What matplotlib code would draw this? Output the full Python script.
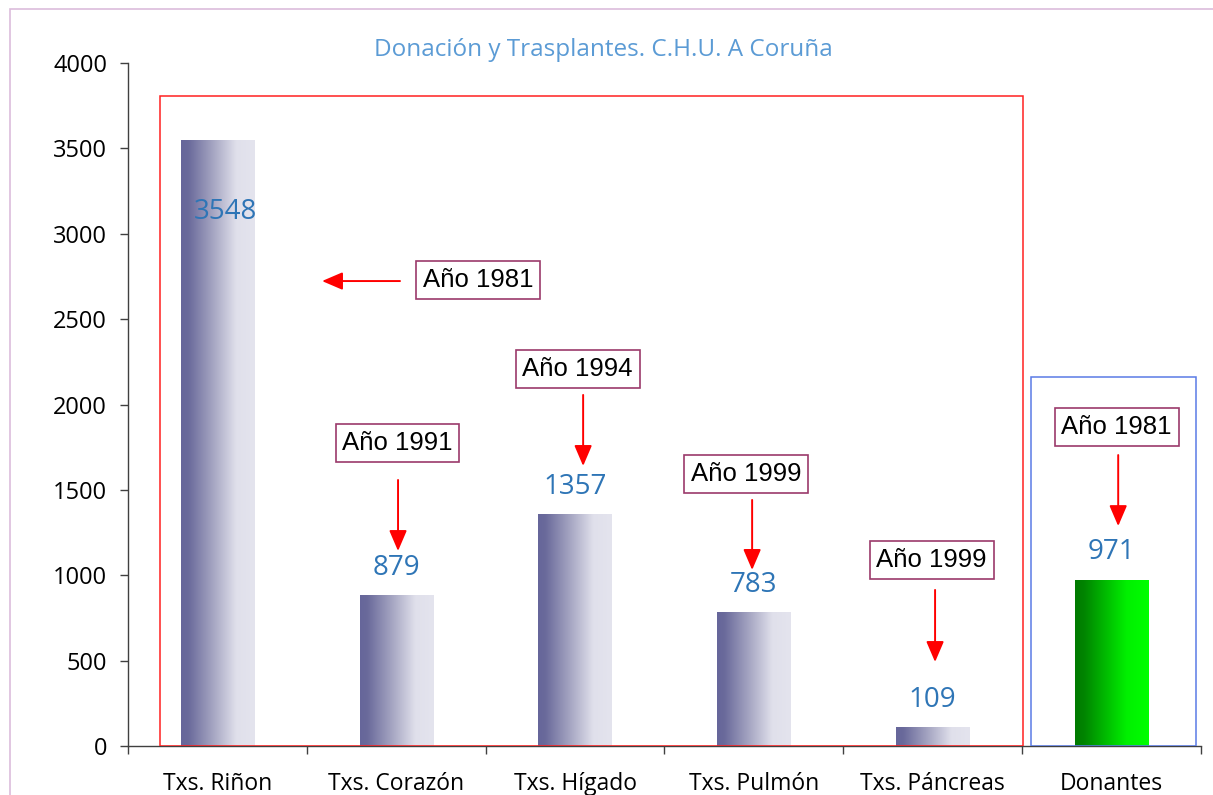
import matplotlib
matplotlib.use("Agg")
import matplotlib.pyplot as plt
import numpy as np
from matplotlib.colors import LinearSegmentedColormap
from matplotlib.patches import Rectangle

# ---- data ----
categories = ["Txs. Riñon", "Txs. Corazón", "Txs. Hígado", "Txs. Pulmón", "Txs. Páncreas", "Donantes"]
values = [3548, 879, 1357, 783, 109, 971]
start_years = ["Año 1981", "Año 1991", "Año 1994", "Año 1999", "Año 1999", "Año 1981"]
title = "Donación y Trasplantes. C.H.U. A Coruña"
y_ticks = [0, 500, 1000, 1500, 2000, 2500, 3000, 3500, 4000]

plt.rcParams['font.family'] = ['Open Sans', 'DejaVu Sans']

W, H = 1213, 795
fig = plt.figure(figsize=(W / 100, H / 100), dpi=100)
ax = fig.add_axes([128 / W, 1 - 746 / H, (1201 - 128) / W, (746 - 63) / H])

# outer chart border
fig.add_artist(Rectangle((10 / W, -0.01), 1.02, 1 - 9 / H + 0.01, transform=fig.transFigure,
                         fill=False, edgecolor='#dcbcdc', lw=1.2))

x = np.arange(len(categories))
bars = ax.bar(x, values, width=0.41, color='none', edgecolor='none', zorder=2)

purple_cmap = LinearSegmentedColormap.from_list(
    "pg", [(0, '#66669a'), (0.1, '#6a6a9b'), (0.45, '#a8a8c4'), (0.75, '#e0e0eb'), (1, '#e4e4ee')])
green_cmap = LinearSegmentedColormap.from_list(
    "gg", [(0, '#007a00'), (0.12, '#008400'), (0.7, '#00f000'), (1, '#00ff00')])
grad = np.linspace(0, 1, 256).reshape(1, -1)
for i, b in enumerate(bars):
    cmap = green_cmap if i == len(bars) - 1 else purple_cmap
    x0, w, h = b.get_x(), b.get_width(), b.get_height()
    ax.imshow(grad, extent=[x0, x0 + w, 0, h], aspect='auto', cmap=cmap, zorder=2,
              interpolation='bilinear')

ax.set_xlim(-0.5, len(categories) - 0.5)
ax.set_ylim(0, 4000)

# value labels
for i, (b, v) in enumerate(zip(bars, values)):
    off = (6, -52) if v > 3000 else (0, 20)
    ax.annotate(str(v), (b.get_x() + b.get_width() / 2, v), xytext=off,
                textcoords='offset points', ha='center', va='center',
                fontsize=20, color='#2e75b6', zorder=5)

# group boxes
ax.add_patch(Rectangle((-0.321, 0), 4.827, 3807, fill=False, edgecolor='#ff2020', lw=1.1, zorder=4))
ax.add_patch(Rectangle((4.55, 0), 0.923, 2161, fill=False, edgecolor='#5a7be6', lw=1.1, zorder=4))

# year annotations: (box center x, box center y, arrow start, arrow end)
box_pos = [(1.4575, 2729), (1.007, 1775), (2.014, 2208), (2.956, 1593), (3.994, 1089), (5.028, 1868)]
arrows = [((1.021, 2723), (0.585, 2723)),
          ((1.010, 1558), (1.010, 1142)),
          ((2.045, 2056), (2.045, 1640)),
          ((2.990, 1441), (2.990, 1031)),
          ((4.013, 914), (4.013, 492)),
          ((5.037, 1704), (5.037, 1288))]
for lab, (bx, by), (s, e) in zip(start_years, box_pos, arrows):
    ax.text(bx, by, lab, ha='center', va='center', fontsize=18.5, family='Liberation Sans',
            color='black', zorder=6,
            bbox=dict(boxstyle='square,pad=0.26', fc='white', ec='#9b3a6b', lw=1.2))
    ax.annotate("", xy=e, xytext=s, zorder=6,
                arrowprops=dict(arrowstyle='-|>,head_length=0.7,head_width=0.3',
                                color='#ff0000', lw=1.4, mutation_scale=18,
                                shrinkA=0, shrinkB=0))

# axes styling
for sp in ['top', 'right']:
    ax.spines[sp].set_visible(False)
for sp in ['left', 'bottom']:
    ax.spines[sp].set_color('#404040')
    ax.spines[sp].set_linewidth(1)

ax.set_yticks(y_ticks)
ax.tick_params(axis='y', length=6, width=1, color='#404040', labelsize=17, pad=9)
ax.set_xticks(x)
ax.set_xticklabels(categories)
ax.set_xticks(np.arange(-0.5, len(categories)), minor=True)
ax.tick_params(axis='x', which='major', length=0, labelsize=16.5, pad=19)
ax.tick_params(axis='x', which='minor', length=6, width=1, color='#404040')

fig.text(603 / W, 1 - 50 / H, title, ha='center', va='center', fontsize=17.5, color='#5b9bd5')

fig.savefig("out.png", dpi=100)
